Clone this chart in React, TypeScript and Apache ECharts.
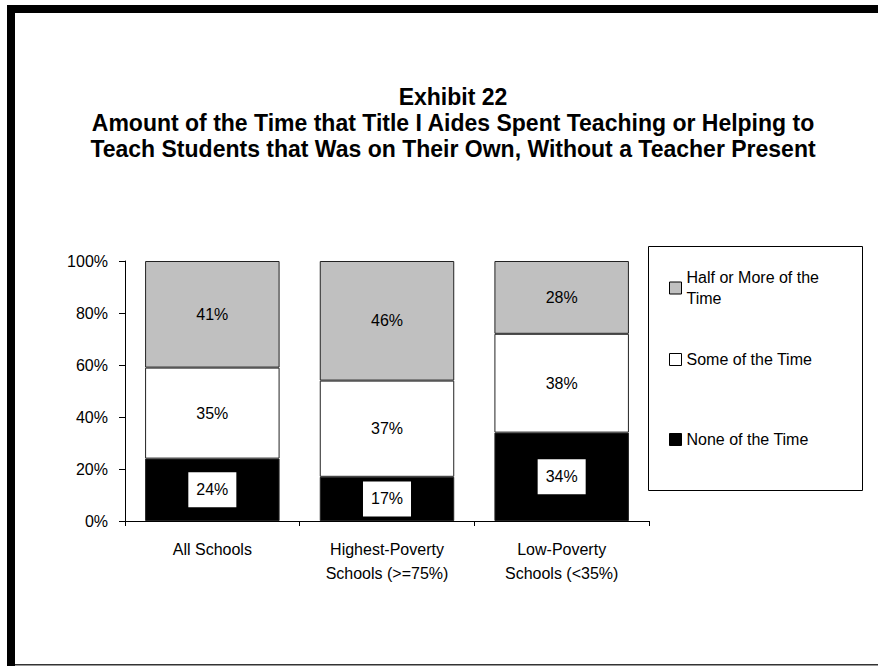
import React, { useEffect, useRef } from "react";
import * as echarts from "echarts";

const titleLines = [
  "Exhibit 22",
  "Amount of the Time that Title I Aides Spent Teaching or Helping to",
  "Teach Students that Was on Their Own, Without a Teacher Present",
];
const categories = ["All Schools", "Highest-Poverty\nSchools (>=75%)", "Low-Poverty\nSchools (<35%)"];
const seriesNames = ["None of the Time", "Some of the Time", "Half or More of the Time"];
const noneValues = [24, 17, 34];
const someValues = [35, 37, 38];
const halfValues = [41, 46, 28];
const yTicks = [0, 20, 40, 60, 80, 100];

const FONT = "'Liberation Sans', Arial, sans-serif";

export default function App() {
  const ref = useRef<HTMLDivElement>(null);
  useEffect(() => {
    if (!ref.current) return;
    const chart = echarts.init(ref.current, undefined, { renderer: "svg" });
    const border = { borderColor: "#222", borderWidth: 1 };
    const plainLabel = {
      show: true,
      position: "inside",
      formatter: "{c}%",
      color: "#000",
      fontFamily: FONT,
      fontSize: 16,
    };
    const legendFormatter = (name: string) =>
      name === "Half or More of the Time" ? "Half or More of the\nTime" : name;
    const legendCommon = {
      orient: "vertical",
      left: 669,
      padding: 0,
      itemWidth: 12,
      itemHeight: 12,
      icon: "rect",
      selectedMode: false,
      itemStyle: { borderColor: "#000", borderWidth: 1 },
      formatter: legendFormatter,
      textStyle: { fontFamily: FONT, fontSize: 16, color: "#000", lineHeight: 21 },
    };
    chart.setOption({
      animation: false,
      backgroundColor: "#fff",
      legend: [
        { ...legendCommon, top: 267, data: [seriesNames[2]] },
        { ...legendCommon, top: 349, data: [seriesNames[1]] },
        { ...legendCommon, top: 429, data: [seriesNames[0]] },
      ],
      grid: { left: 125, right: 229, top: 261, bottom: 145, containLabel: false },
      xAxis: {
        type: "category",
        data: categories,
        boundaryGap: true,
        axisLine: { lineStyle: { color: "#000", width: 1 } },
        axisTick: { show: true, length: 5, alignWithLabel: false, lineStyle: { color: "#000" } },
        axisLabel: {
          interval: 0,
          margin: 16,
          color: "#000",
          fontFamily: FONT,
          fontSize: 16,
          lineHeight: 24,
        },
      },
      yAxis: {
        type: "value",
        min: yTicks[0],
        max: yTicks[yTicks.length - 1],
        interval: yTicks[1] - yTicks[0],
        splitLine: { show: false },
        axisLine: { show: true, lineStyle: { color: "#000", width: 1 } },
        axisTick: { show: true, length: 6, lineStyle: { color: "#000" } },
        axisLabel: {
          formatter: "{value}%",
          margin: 17,
          color: "#000",
          fontFamily: FONT,
          fontSize: 16,
        },
      },
      series: [
        {
          name: seriesNames[0],
          type: "bar",
          stack: "total",
          data: noneValues,
          barWidth: "77%",
          itemStyle: { color: "#000", ...border },
          label: {
            ...plainLabel,
            backgroundColor: "#fff",
            padding: [9, 8],
            lineHeight: 17,
          },
        },
        {
          name: seriesNames[1],
          type: "bar",
          stack: "total",
          data: someValues,
          barWidth: "77%",
          itemStyle: { color: "#fff", ...border },
          label: plainLabel,
        },
        {
          name: seriesNames[2],
          type: "bar",
          stack: "total",
          data: halfValues,
          barWidth: "77%",
          itemStyle: { color: "#c0c0c0", ...border },
          label: plainLabel,
        },
      ],
      graphic: [
        {
          type: "text",
          x: 453,
          y: 84,
          silent: true,
          style: {
            text: titleLines.join("\n"),
            align: "center",
            verticalAlign: "top",
            fontFamily: FONT,
            fontSize: 23,
            fontWeight: "bold",
            lineHeight: 26,
            fill: "#000",
          },
        },
        { type: "rect", shape: { x: 648.5, y: 246.5, width: 214, height: 244 }, style: { fill: "none", stroke: "#000", lineWidth: 1 }, silent: true, z: -1 },
        { type: "rect", shape: { x: 7, y: 5, width: 871, height: 8 }, style: { fill: "#000" }, silent: true },
        { type: "rect", shape: { x: 7, y: 5, width: 8, height: 661 }, style: { fill: "#000" }, silent: true },
        { type: "rect", shape: { x: 15, y: 664, width: 863, height: 1.5 }, style: { fill: "#333" }, silent: true },
      ],
    });
    return () => chart.dispose();
  }, []);
  return (
    <div
      ref={ref}
      style={{ position: "fixed", left: 0, top: 0, width: 878, height: 666 }}
    />
  );
}
